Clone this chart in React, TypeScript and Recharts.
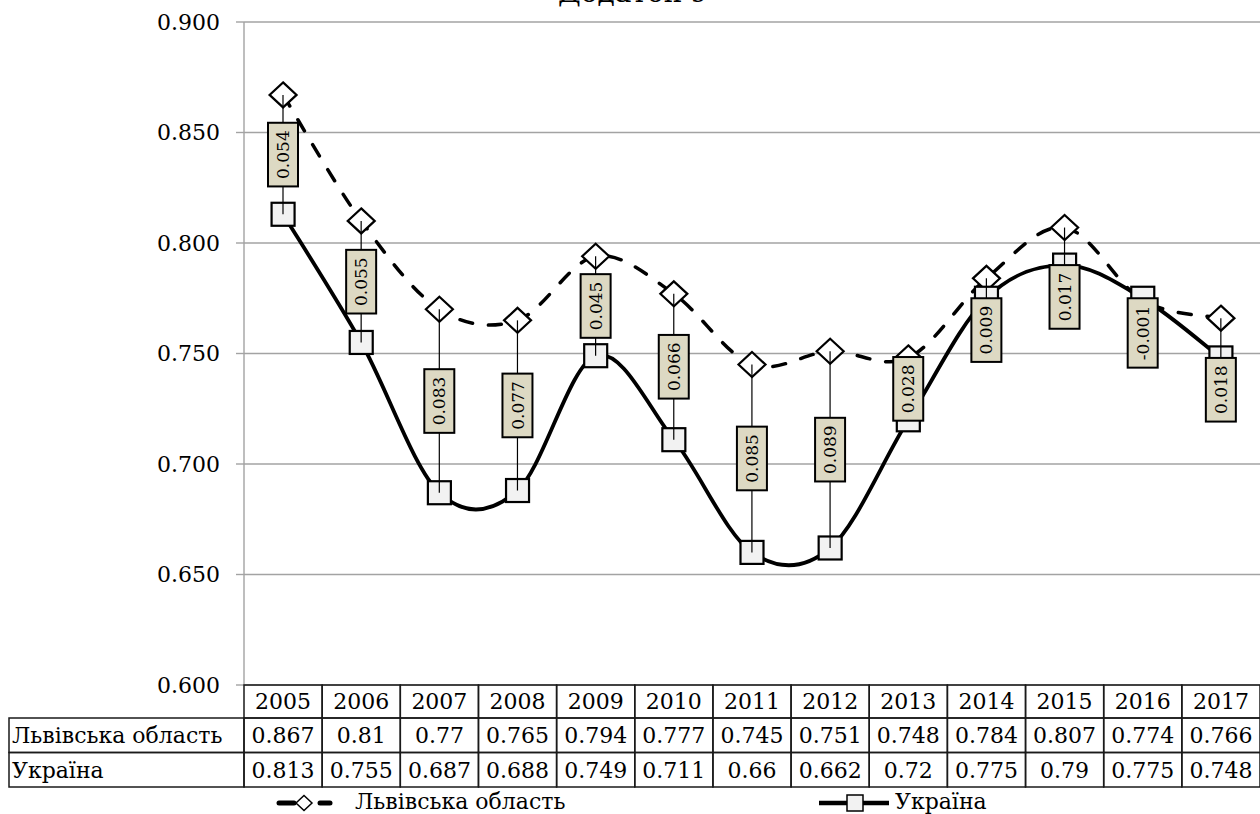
import React from 'react';
import { ComposedChart, Line, Bar, XAxis, YAxis, CartesianGrid, Legend } from 'recharts';

const title = 'Додаток 9';
const years = ['2005', '2006', '2007', '2008', '2009', '2010', '2011', '2012', '2013', '2014', '2015', '2016', '2017'];
const lvivValues = [0.867, 0.81, 0.77, 0.765, 0.794, 0.777, 0.745, 0.751, 0.748, 0.784, 0.807, 0.774, 0.766];
const ukraineValues = [0.813, 0.755, 0.687, 0.688, 0.749, 0.711, 0.66, 0.662, 0.72, 0.775, 0.79, 0.775, 0.748];
const yTicks = [0.6, 0.65, 0.7, 0.75, 0.8, 0.85, 0.9];
const seriesNames = ['Львівська область', 'Україна'];

const FONT = "'DejaVu Serif', serif";
const W = 1260;
const H = 814;
const TABLE_LEFT = 9;

const data = years.map((year, i) => ({
  year,
  lviv: lvivValues[i],
  ukraine: ukraineValues[i],
  range: [Math.min(lvivValues[i], ukraineValues[i]), Math.max(lvivValues[i], ukraineValues[i])],
  diff: Math.round((lvivValues[i] - ukraineValues[i]) * 1000) / 1000,
}));

// Excel-like smoothed line (Catmull-Rom style bezier, 1/6 tangents)
const excelSmooth = (context: any) => {
  let pts: number[][] = [];
  return {
    areaStart() {},
    areaEnd() {},
    lineStart() {
      pts = [];
    },
    point(x: number, y: number) {
      pts.push([+x, +y]);
    },
    lineEnd() {
      const n = pts.length;
      if (!n) return;
      context.moveTo(pts[0][0], pts[0][1]);
      if (n === 1) return;
      for (let i = 0; i < n - 1; i++) {
        const p0 = pts[Math.max(0, i - 1)];
        const p1 = pts[i];
        const p2 = pts[i + 1];
        const p3 = pts[Math.min(n - 1, i + 2)];
        const c1x = p1[0] + (p2[0] - p0[0]) / 6;
        const c1y = p1[1] + (p2[1] - p0[1]) / 6;
        const c2x = p2[0] - (p3[0] - p1[0]) / 6;
        const c2y = p2[1] - (p3[1] - p1[1]) / 6;
        context.bezierCurveTo(c1x, c1y, c2x, c2y, p2[0], p2[1]);
      }
    },
  };
};

const DiamondDot = (props: any) => {
  const { cx, cy, index } = props;
  if (cx == null || cy == null) return <g key={index} />;
  const hx = 13.5;
  const hy = 12.5;
  return (
    <path
      key={index}
      d={`M${cx},${cy - hy} L${cx + hx},${cy} L${cx},${cy + hy} L${cx - hx},${cy} Z`}
      fill="#ffffff"
      stroke="#000000"
      strokeWidth={2.2}
    />
  );
};

const SquareDot = (props: any) => {
  const { cx, cy, index } = props;
  if (cx == null || cy == null) return <g key={index} />;
  const s = 23;
  return (
    <rect key={index} x={cx - s / 2} y={cy - s / 2} width={s} height={s} fill="#f2f2f2" stroke="#000000" strokeWidth={2.2} />
  );
};

const charW = (s: string, fs: number) => {
  let w = 0;
  for (const ch of s) {
    if (ch === '.') w += 0.318;
    else if (ch === '-') w += 0.338;
    else w += 0.636;
  }
  return w * fs;
};

const HighLowShape = (props: any) => {
  const { x, y, width, height, payload } = props;
  if (x == null || y == null || !payload) return <g />;
  const cx = x + width / 2;
  const top = Math.min(y, y + height);
  const bottom = Math.max(y, y + height);
  const ukrLower = payload.ukraine <= payload.lviv;
  const ukrY = ukrLower ? bottom : top;
  const lvivY = ukrLower ? top : bottom;
  const label = payload.diff.toFixed(3);
  const fs = 17;
  const bh = charW(label, fs) + 15;
  const bw = 30;
  const small = Math.abs(payload.diff) < 0.02;
  const cyBox = small ? ukrY + bh / 2 : (top + bottom) / 2;
  return (
    <g>
      <line x1={cx} x2={cx} y1={lvivY} y2={ukrY} stroke="#000000" strokeWidth={1.2} />
      <rect x={cx - bw / 2} y={cyBox - bh / 2} width={bw} height={bh} fill="#ddd9c3" stroke="#000000" strokeWidth={2} />
      <text
        x={cx}
        y={cyBox}
        transform={`rotate(-90 ${cx} ${cyBox})`}
        textAnchor="middle"
        dy="0.36em"
        fontFamily={FONT}
        fontSize={fs}
        fill="#000000"
      >
        {label}
      </text>
    </g>
  );
};

const TableTick = (props: any) => {
  const { x, y, index, width, visibleTicksCount } = props;
  const band = width && visibleTicksCount ? width / visibleTicksCount : 1016 / 13;
  const left = x - band / 2;
  const r1 = 33;
  const r2 = 34.5;
  const r3 = 34.5;
  const fs = 22;
  const cellStroke = { fill: 'none', stroke: '#1a1a1a', strokeWidth: 1.5 };
  const txt = { fontFamily: FONT, fontSize: fs, fill: '#000000' };
  const row1c = y + r1 / 2;
  const row2c = y + r1 + r2 / 2;
  const row3c = y + r1 + r2 + r3 / 2;
  return (
    <g>
      <rect x={left} y={y} width={band} height={r1} {...cellStroke} />
      <rect x={left} y={y + r1} width={band} height={r2} {...cellStroke} />
      <rect x={left} y={y + r1 + r2} width={band} height={r3} {...cellStroke} />
      <text x={x} y={row1c} dy="0.36em" textAnchor="middle" {...txt}>{years[index]}</text>
      <text x={x} y={row2c} dy="0.36em" textAnchor="middle" {...txt}>{String(lvivValues[index])}</text>
      <text x={x} y={row3c} dy="0.36em" textAnchor="middle" {...txt}>{String(ukraineValues[index])}</text>
      {index === 0 && (
        <g>
          <rect x={TABLE_LEFT} y={y + r1} width={left - TABLE_LEFT} height={r2} {...cellStroke} />
          <rect x={TABLE_LEFT} y={y + r1 + r2} width={left - TABLE_LEFT} height={r3} {...cellStroke} />
          <text x={TABLE_LEFT + 3} y={row2c} dy="0.36em" textAnchor="start" {...txt}>{seriesNames[0]}</text>
          <text x={TABLE_LEFT + 3} y={row3c} dy="0.36em" textAnchor="start" {...txt}>{seriesNames[1]}</text>
        </g>
      )}
    </g>
  );
};

const LegendContent = () => (
  <div style={{ position: 'relative', width: W, height: 26, fontFamily: FONT, fontSize: 22, color: '#000' }}>
    <svg style={{ position: 'absolute', left: 270, top: 0 }} width={70} height={26}>
      <line x1={9} y1={15} x2={24} y2={15} stroke="#000" strokeWidth={5} strokeLinecap="round" />
      <line x1={50} y1={15} x2={60} y2={15} stroke="#000" strokeWidth={5} strokeLinecap="round" />
      <path d="M42,15 L34,7.5 L26,15 L34,22.5 Z" fill="#fff" stroke="#000" strokeWidth={1.5} />
    </svg>
    <span style={{ position: 'absolute', left: 355, top: 1, lineHeight: '26px', whiteSpace: 'nowrap' }}>{seriesNames[0]}</span>
    <svg style={{ position: 'absolute', left: 815, top: 0 }} width={80} height={26}>
      <line x1={4} y1={15} x2={74} y2={15} stroke="#000" strokeWidth={4.5} />
      <rect x={32} y={7} width={16} height={16} fill="#f2f2f2" stroke="#000" strokeWidth={1.5} />
    </svg>
    <span style={{ position: 'absolute', left: 895, top: 1, lineHeight: '26px', whiteSpace: 'nowrap' }}>{seriesNames[1]}</span>
  </div>
);

export default function App() {
  return (
    <div style={{ position: 'absolute', left: 0, top: 0, width: W, height: H, overflow: 'hidden', background: '#ffffff' }}>
      <div
        style={{
          position: 'absolute',
          left: 0,
          top: -22,
          width: 1266,
          textAlign: 'center',
          fontFamily: FONT,
          fontSize: 28,
          lineHeight: '30px',
          color: '#000',
          zIndex: 2,
        }}
      >
        {title}
      </div>
      <ComposedChart width={W} height={H} data={data} margin={{ top: 22, right: 0, left: 0, bottom: 0 }}>
        <CartesianGrid vertical={false} stroke="#a3a3a3" strokeWidth={1.4} />
        <XAxis
          dataKey="year"
          type="category"
          interval={0}
          axisLine={false}
          tickLine={false}
          tickSize={0}
          tickMargin={0}
          height={103}
          tick={<TableTick />}
        />
        <YAxis
          type="number"
          domain={[0.6, 0.9]}
          ticks={yTicks}
          allowDataOverflow
          width={244}
          tickFormatter={(v: number) => v.toFixed(3)}
          tick={{ fontFamily: FONT, fontSize: 22, fill: '#000000' }}
          axisLine={{ stroke: '#a3a3a3', strokeWidth: 1.4 }}
          tickLine={{ stroke: '#a3a3a3', strokeWidth: 1.4 }}
          tickSize={8}
          tickMargin={16}
        />
        <Line
          dataKey="lviv"
          name={seriesNames[0]}
          type={excelSmooth as any}
          stroke="#000000"
          strokeWidth={3.5}
          strokeDasharray="13 16"
          strokeLinecap="round"
          dot={DiamondDot}
          activeDot={false}
          isAnimationActive={false}
        />
        <Line
          dataKey="ukraine"
          name={seriesNames[1]}
          type={excelSmooth as any}
          stroke="#000000"
          strokeWidth={3.8}
          dot={SquareDot}
          activeDot={false}
          isAnimationActive={false}
        />
        <Bar
          dataKey="range"
          barSize={2}
          shape={<HighLowShape />}
          isAnimationActive={false}
          legendType="none"
          {...({ zIndex: 1000 } as any)}
        />
        <Legend
          verticalAlign="bottom"
          align="left"
          height={26}
          wrapperStyle={{ left: 0, bottom: 0, width: W, height: 26 }}
          content={() => <LegendContent />}
        />
      </ComposedChart>
    </div>
  );
}
